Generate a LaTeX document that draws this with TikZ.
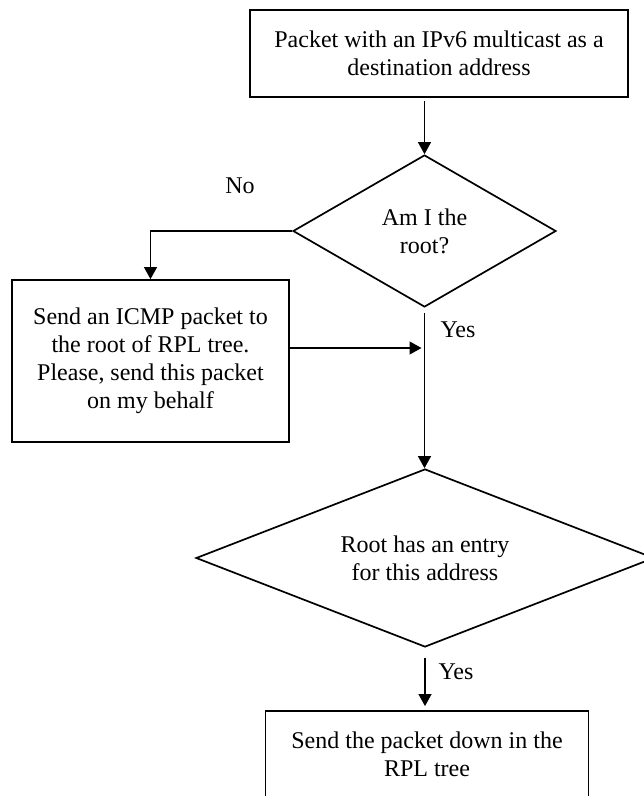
\documentclass[tikz,border=0pt]{standalone}
\usepackage{fontspec}
\setmainfont{Liberation Serif}
\usetikzlibrary{shapes.geometric,arrows.meta}
\begin{document}
\begin{tikzpicture}[x=1pt,y=-1pt,
  txt/.style={font=\fontsize{24}{28}\selectfont, align=center},
  procbox/.style={draw, line width=1.8pt, txt, inner sep=0pt},
  decision/.style={draw, diamond, line width=1.7pt, inner sep=0pt},
  flow/.style={line width=1.2pt, -{Triangle[length=12pt,width=13pt]}},
  lbl/.style={font=\fontsize{24}{28}\selectfont}]
\useasboundingbox (0,0) rectangle (644,796);

\node[procbox, minimum width=378pt, minimum height=87pt] (start) at (439,53.5)
  {Packet with an IPv6 multicast as a\\destination address};
\node[decision, minimum width=263pt, minimum height=152pt,
  label={[txt]center:{Am I the\\root?}}] (root) at (424.5,231) {};
\node[procbox, minimum width=277pt, minimum height=162pt] (icmp) at (150.5,361)
  {Send an ICMP packet to\\the root of RPL tree.\\Please, send this packet\\on my behalf};
\node[decision, minimum width=458pt, minimum height=178pt,
  label={[txt]center:{Root has an entry\\for this address}}] (entry) at (425,558) {};
\node[draw, line width=1.8pt, minimum width=323pt, minimum height=100pt] (down) at (427,761) {};
\node[txt, anchor=north] (downtxt) at (427,728) {Send the packet down in the\\RPL tree};

\coordinate (join) at (424.5,348);

\draw[flow, shorten <=3pt] (root.north |- start.south) -- (root.north);
\draw[flow] (root.west) -| (icmp.north);
\draw[flow, shorten >=3pt] (icmp.east |- join) -- (join);
\draw[flow, shorten <=5pt] (root.south) -- (root.south |- entry.north);
\draw[flow, shorten <=10pt, shorten >=4pt] (entry.south) -- (entry.south |- down.north);

\node[lbl] (no) at (240,186) {No};
\node[lbl] (yes1) at (458,330) {Yes};
\node[lbl] (yes2) at (456,672) {Yes};
\end{tikzpicture}
\end{document}
